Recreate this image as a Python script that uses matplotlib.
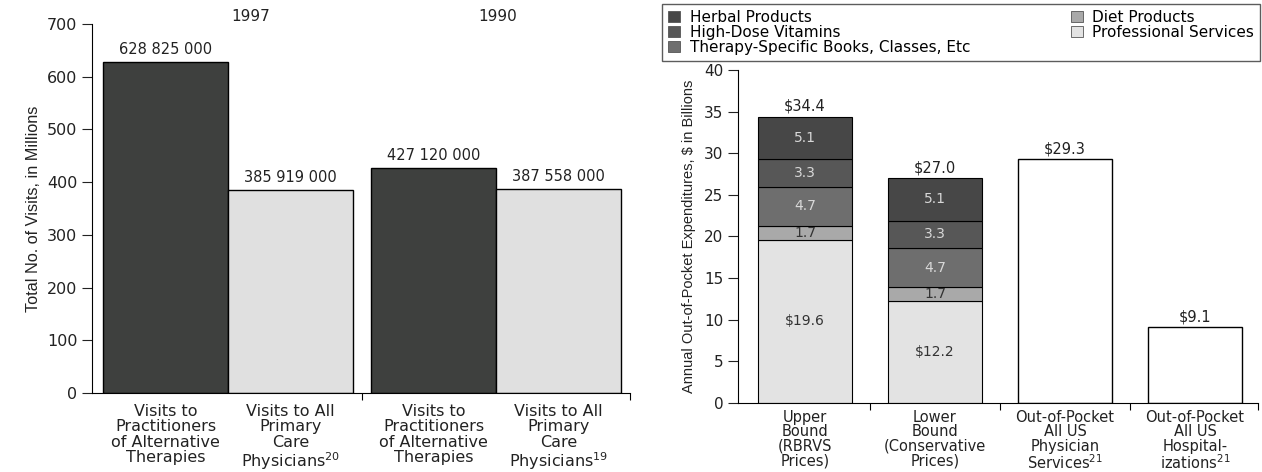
"""
two panel bar chart: visits (left) and out-of-pocket expenditures (right)
"""
import matplotlib
matplotlib.use('Agg')
import matplotlib.pyplot as plt
from matplotlib.patches import Patch

plt.rcParams['font.family'] = ['DejaVu Sans']
plt.rcParams['mathtext.fontset'] = 'dejavusans'

##left panel data
years = ['1997', '1990']
visit_labels = ['Visits to\nPractitioners\nof Alternative\nTherapies',
                'Visits to All\nPrimary\nCare\nPhysicians$^{20}$',
                'Visits to\nPractitioners\nof Alternative\nTherapies',
                'Visits to All\nPrimary\nCare\nPhysicians$^{19}$']
visits = [628825000, 385919000, 427120000, 387558000]
visit_text = ['628 825 000', '385 919 000', '427 120 000', '387 558 000']

##right panel data
spend_labels = ['Upper\nBound\n(RBRVS\nPrices)',
                'Lower\nBound\n(Conservative\nPrices)',
                'Out-of-Pocket\nAll US\nPhysician\nServices$^{21}$',
                'Out-of-Pocket\nAll US\nHospital-\nizations$^{21}$']
segments = ['Professional Services', 'Diet Products',
            'Therapy-Specific Books, Classes, Etc', 'High-Dose Vitamins', 'Herbal Products']
professional = [19.6, 12.2]
diet = [1.7, 1.7]
books = [4.7, 4.7]
vitamins = [3.3, 3.3]
herbal = [5.1, 5.1]
totals = [34.4, 27.0]
other_spend = [29.3, 9.1]

seg_colors = ['#e3e3e3', '#a9a9a9', '#6e6e6e', '#575757', '#474747']
seg_text = ['#333333', '#333333', '#d8d8d8', '#d8d8d8', '#d8d8d8']
ink = '#222222'

fig = plt.figure(figsize=(12.62, 4.72), dpi=100)

##---- left panel
ax1 = fig.add_axes([92/1262, 79/472, 538/1262, 369/472])
xpos = [0.5, 1.5, 2.644, 3.644]
colors1 = ['#3e403e', '#e0e0e0', '#3e403e', '#e0e0e0']
vals = [v/1e6 for v in visits]
ax1.bar(xpos, vals, width=1.0, color=colors1, edgecolor='black', linewidth=1.0)
for x, v, t in zip(xpos, vals, visit_text):
    ax1.text(x, v + 9, t, ha='center', va='bottom', fontsize=10.5, color=ink)
for x, yr in zip([1.18, 3.16], years):
    ax1.text(x, 715, yr, ha='center', va='center', fontsize=11, color=ink, clip_on=False)
ax1.set_xlim(-0.088, 4.216)
ax1.set_ylim(0, 700)
ax1.set_yticks(range(0, 701, 100))
ax1.set_xticks([2.07, 4.216])
ax1.set_xticklabels([])
ax1.set_xticks(xpos, minor=True)
ax1.set_xticklabels(visit_labels, minor=True, fontsize=11.5, linespacing=1.02, color=ink)
ax1.tick_params(axis='x', which='minor', length=0, pad=8)
ax1.tick_params(axis='x', which='major', length=5, direction='out')
ax1.tick_params(axis='y', labelsize=11.5, length=7, direction='out', colors=ink)
ax1.set_ylabel('Total No. of Visits, in Millions', fontsize=11.7, labelpad=4,
               family=['Liberation Sans', 'DejaVu Sans'], color=ink)
for s in ['top', 'right']:
    ax1.spines[s].set_visible(False)

##---- right panel
ax2 = fig.add_axes([738/1262, 69/472, 520/1262, 333/472])
w = 0.72
stack = [professional, diet, books, vitamins, herbal]
bottom = [0.0, 0.0]
for i, seg in enumerate(stack):
    ax2.bar([0, 1], seg, width=w, bottom=bottom, color=seg_colors[i],
            edgecolor='black', linewidth=0.8, label=segments[i])
    for j in range(2):
        if i == 0:
            lbl = '$%.1f' % seg[j]
        else:
            lbl = '%.1f' % seg[j]
        ax2.text(j, bottom[j] + seg[j]/2, lbl, ha='center', va='center',
                 fontsize=10, color=seg_text[i])
    bottom = [b + s for b, s in zip(bottom, seg)]
ax2.bar([2, 3], other_spend, width=w, color='white', edgecolor='black', linewidth=1.0)
for x, v in zip([0, 1, 2, 3], totals + other_spend):
    ax2.text(x, v + 0.35, '$%.1f' % v, ha='center', va='bottom', fontsize=10.5, color=ink)
ax2.set_xlim(-0.515, 3.485)
ax2.set_ylim(0, 40)
ax2.set_yticks(range(0, 41, 5))
ax2.set_xticks([0.5, 1.5, 2.5, 3.485])
ax2.set_xticklabels([])
ax2.set_xticks([0, 1, 2, 3], minor=True)
ax2.set_xticklabels(spend_labels, minor=True, fontsize=10.5, linespacing=0.95, color=ink)
ax2.tick_params(axis='x', which='minor', length=0, pad=5)
ax2.tick_params(axis='x', which='major', length=5, direction='out')
ax2.tick_params(axis='y', labelsize=11, length=7, direction='out', colors=ink)
ax2.set_ylabel('Annual Out-of-Pocket Expenditures, $ in Billions', fontsize=10.5,
               labelpad=6, family=['Liberation Sans', 'DejaVu Sans'], color=ink)
for s in ['top', 'right']:
    ax2.spines[s].set_visible(False)

##legend box across the top of right panel
order = [4, 3, 2, 1, 0]
handles = [Patch(facecolor=seg_colors[i], edgecolor='#555555', linewidth=0.6) for i in order]
labels = [segments[i] for i in order]
fig.legend(handles, labels, loc='upper left', ncol=2, mode='expand',
           bbox_to_anchor=(662/1262, 1 - 60/472, 598/1262, 56/472),
           fontsize=11, frameon=True, fancybox=False, edgecolor='#333333',
           handlelength=0.8, handleheight=0.7, handletextpad=0.6,
           labelspacing=0.0, borderaxespad=0.0, borderpad=0.4)

fig.savefig('out.png', dpi=100)
